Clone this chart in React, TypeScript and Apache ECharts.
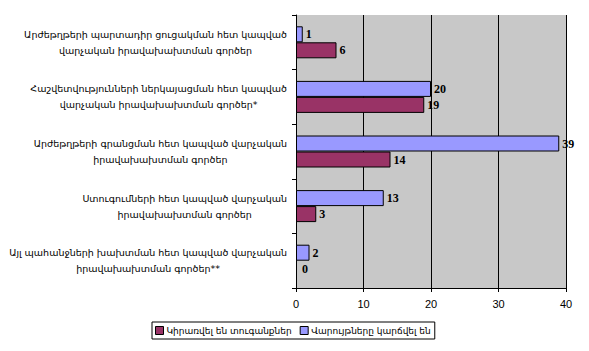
import React, { useEffect, useRef } from "react";
import * as echarts from "echarts";

const categories = [
  "Արժեթղթերի պարտադիր ցուցակման հետ կապված\nվարչական իրավախախտման գործեր",
  "Հաշվետվությունների ներկայացման հետ կապված\nվարչական իրավախախտման գործեր*",
  "Արժեթղթերի գրանցման հետ կապված վարչական\nիրավախախտման գործեր",
  "Ստուգումների հետ կապված վարչական\nիրավախախտման գործեր",
  "Այլ պահանջների խախտման հետ կապված վարչական\nիրավախախտման գործեր**",
];
const closedLabel = "Վարույթները կարճվել են";
const finedLabel = "Կիրառվել են տուգանքներ";
const closedValues = [1, 20, 39, 13, 2];
const finedValues = [6, 19, 14, 3, 0];
const xTicks = [0, 10, 20, 30, 40];

export default function App() {
  const ref = useRef<HTMLDivElement>(null);
  useEffect(() => {
    if (!ref.current) return;
    const chart = echarts.init(ref.current, null, { renderer: "svg" });
    const valueLabel = {
      show: true,
      position: "right",
      distance: 3,
      color: "#000",
      fontWeight: "bold",
      fontFamily: "Liberation Serif",
      fontSize: 12,
    };
    const toItems = (vals: number[]) =>
      vals.map((v) =>
        v === 0
          ? { value: v, itemStyle: { borderWidth: 0 }, label: { distance: 6 } }
          : v
      );
    chart.setOption({
      animation: false,
      backgroundColor: "#fff",
      grid: {
        left: 296,
        right: 23,
        top: 15,
        bottom: 63,
        show: true,
        backgroundColor: "#c8c8c8",
        borderWidth: 0,
        containLabel: false,
        outerBoundsMode: "none",
      },
      legend: {
        orient: "horizontal",
        left: 152,
        top: 322,
        itemWidth: 8,
        itemHeight: 8,
        itemGap: 8,
        padding: [4, 4, 4, 3],
        borderColor: "#000",
        borderWidth: 1,
        backgroundColor: "#fff",
        icon: "rect",
        itemStyle: { borderColor: "#000", borderWidth: 1 },
        textStyle: { fontFamily: "DejaVu Sans", fontSize: 9, color: "#000", padding: [0, 0, 0, -2] },
        data: [finedLabel, closedLabel],
      },
      xAxis: {
        type: "value",
        min: xTicks[0],
        max: xTicks[xTicks.length - 1],
        interval: 10,
        axisLine: { show: true, lineStyle: { color: "#000" } },
        axisTick: { show: true, length: 4, lineStyle: { color: "#000" } },
        axisLabel: { color: "#000", fontFamily: "Liberation Sans", fontSize: 11, margin: 10 },
        splitLine: { show: true, lineStyle: { color: "#000", width: 1 } },
      },
      yAxis: {
        type: "category",
        inverse: true,
        data: categories,
        axisLine: { show: true, lineStyle: { color: "#000" } },
        axisTick: { show: true, length: 4, lineStyle: { color: "#000" } },
        axisLabel: {
          align: "right",
          margin: 9,
          formatter: (v: string) => `{a|${v}}`,
          rich: {
            a: {
              align: "center",
              fontFamily: "DejaVu Sans",
              fontSize: 9.5,
              lineHeight: 16,
              color: "#000",
            },
          },
        },
      },
      series: [
        {
          name: closedLabel,
          type: "bar",
          data: toItems(closedValues),
          barWidth: 16,
          barGap: "0%",
          itemStyle: { color: "#9999ff", borderColor: "#000", borderWidth: 1 },
          label: valueLabel,
        },
        {
          name: finedLabel,
          type: "bar",
          data: toItems(finedValues),
          barWidth: 16,
          barGap: "0%",
          itemStyle: { color: "#993366", borderColor: "#000", borderWidth: 1 },
          label: valueLabel,
        },
      ],
    });
    return () => chart.dispose();
  }, []);
  return <div ref={ref} style={{ width: 589, height: 351, position: "absolute", left: 0, top: 0 }} />;
}
